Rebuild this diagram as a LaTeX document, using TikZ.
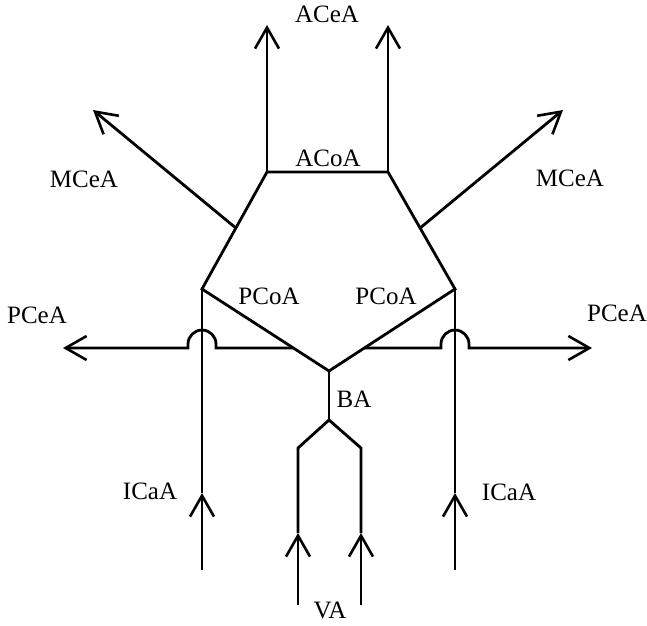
\documentclass[tikz,border=0pt]{standalone}
\usepackage{fontspec}
\setmainfont{Liberation Serif}
\usetikzlibrary{arrows.meta,calc}
\begin{document}
\begin{tikzpicture}[x=1pt,y=1pt,
  vessel/.style={line width=2.8pt, line join=miter},
  flow/.style={vessel,-{Straight Barb[length=21pt,width=24pt,line width=2.6pt]}},
  lbl/.style={font=\fontsize{25}{30}\selectfont, inner sep=0pt}]
\useasboundingbox (0,0) rectangle (647,625);
% junctions
\coordinate (A1) at (267,453);
\coordinate (A2) at (388,453);
\coordinate (AT1) at (267,600);
\coordinate (AT2) at (388,600);
\coordinate (P1) at (202,336);
\coordinate (P2) at (455,336);
\coordinate (M1) at ($(A1)!0.479!(P1)$);
\coordinate (M2) at ($(A2)!0.479!(P2)$);
\coordinate (MT1) at (93,515);
\coordinate (MT2) at (563,515);
\coordinate (B) at (329,254);
\coordinate (L1) at ($(P1)!0.72!(B)$);
\coordinate (L2) at ($(P2)!0.72!(B)$);
\coordinate (H1) at ($(L1 -| P1)+(14,0)$);
\coordinate (H2) at ($(L2 -| P2)-(14,0)$);
\coordinate (LT1) at (63,277);
\coordinate (LT2) at (592,277);
\coordinate (B2) at (329,205);
\coordinate (V1) at (298,177);
\coordinate (V2) at (361,177);
\coordinate (VM1) at (298,92);
\coordinate (VM2) at (361,92);
\coordinate (VB1) at (298,20);
\coordinate (VB2) at (361,20);
\coordinate (IB1) at (202,55);
\coordinate (IM1) at (202,132);
\coordinate (IB2) at (455,55);
\coordinate (IM2) at (455,132);
% circle of Willis
\draw[vessel] (P1) -- (A1) -- (A2) -- (P2) -- (B) -- cycle;
\draw[flow] (A1) -- (AT1);
\draw[flow] (A2) -- (AT2);
\draw[flow] (M1) -- (MT1);
\draw[flow] (M2) -- (MT2);
% posterior cerebral with hops
\draw[flow] (L1) -- (H1) -- ++(0,4) arc[start angle=0,end angle=180,radius=14] -- ++(0,-4) -- (LT1);
\draw[flow] (L2) -- (H2) -- ++(0,4) arc[start angle=180,end angle=0,radius=14] -- ++(0,-4) -- (LT2);
% internal carotids
\draw[flow] (IB1) -- (IM1);
\draw[vessel] (IM1) -- (P1);
\draw[flow] (IB2) -- (IM2);
\draw[vessel] (IM2) -- (P2);
% basilar and vertebrals
\draw[vessel] (B) -- (B2);
\draw[vessel] (B2) -- (V1) -- (VM1);
\draw[vessel] (B2) -- (V2) -- (VM2);
\draw[flow] (VB1) -- (VM1);
\draw[flow] (VB2) -- (VM2);
% labels
\node[lbl] (aceA) at (327,611) {ACeA};
\node[lbl] (acoA) at (328,467) {ACoA};
\node[lbl] (mceL) at (84,446) {MCeA};
\node[lbl] (mceR) at (570,447) {MCeA};
\node[lbl] (pcoL) at (269,329) {PCoA};
\node[lbl] (pcoR) at (386,329) {PCoA};
\node[lbl] (pceL) at (37,310) {PCeA};
\node[lbl] (pceR) at (617,312) {PCeA};
\node[lbl] (ba) at (354,226) {BA};
\node[lbl] (icaL) at (150,134) {ICaA};
\node[lbl] (icaR) at (509,133) {ICaA};
\node[lbl] (va) at (330,15) {VA};
\end{tikzpicture}
\end{document}
